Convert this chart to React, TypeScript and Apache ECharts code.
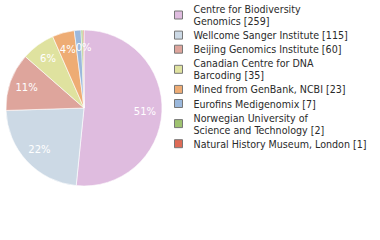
import React, { useEffect, useRef } from "react";
import * as echarts from "echarts";

const categories = [
  "Centre for Biodiversity\nGenomics",
  "Wellcome Sanger Institute",
  "Beijing Genomics Institute",
  "Canadian Centre for DNA\nBarcoding",
  "Mined from GenBank, NCBI",
  "Eurofins Medigenomix",
  "Norwegian University of\nScience and Technology",
  "Natural History Museum, London",
];
const values = [259, 115, 60, 35, 23, 7, 2, 1];
const colors = ["#dfbcdf", "#ccd9e5", "#dea59c", "#dfe29f", "#eeac74", "#9bb8dc", "#9ec270", "#de6b56"];

export default function App() {
  const ref = useRef<HTMLDivElement>(null);
  useEffect(() => {
    document.body.style.margin = "0";
    if (!ref.current) return;
    const chart = echarts.init(ref.current, undefined, { renderer: "svg" });
    const names = categories.map((name, i) => `${name} [${values[i]}]`);
    const data = names.map((name, i) => ({
      name,
      value: values[i],
      itemStyle: { color: colors[i] },
    }));
    chart.setOption({
      animation: false,
      legend: {
        data: names,
        orient: "vertical",
        left: 174,
        top: 3,
        padding: 0,
        itemWidth: 8,
        itemHeight: 8,
        itemGap: 2.1,
        icon: "rect",
        itemStyle: { borderColor: "#777", borderWidth: 1 },
        textStyle: {
          fontFamily: "DejaVu Sans Condensed",
          fontSize: 10.6,
          lineHeight: 12,
          color: "#2a2a2a",
          padding: [0, 0, 0, 6],
        },
        selectedMode: false,
      },
      series: [
        {
          type: "pie",
          center: [84, 108],
          radius: [0, 78],
          startAngle: 90,
          clockwise: true,
          label: { show: false },
          labelLine: { show: false },
          itemStyle: { borderColor: "#fff", borderWidth: 0.6 },
          silent: true,
          data,
        },
        {
          type: "pie",
          center: [84, 108],
          radius: [38, 78],
          startAngle: 90,
          clockwise: true,
          silent: true,
          legendHoverLink: false,
          itemStyle: { color: "rgba(0,0,0,0)", borderWidth: 0 },
          label: {
            show: true,
            position: "inside",
            color: "#fff",
            fontFamily: "DejaVu Sans",
            fontSize: 10,
            formatter: (p: any) => `${Math.floor(p.percent)}%`,
          },
          labelLine: { show: false },
          data: values.map((v, i) => ({ name: "l" + i, value: v })),
        },
      ],
    });
    return () => chart.dispose();
  }, []);
  return <div ref={ref} style={{ width: 380, height: 240 }} />;
}
